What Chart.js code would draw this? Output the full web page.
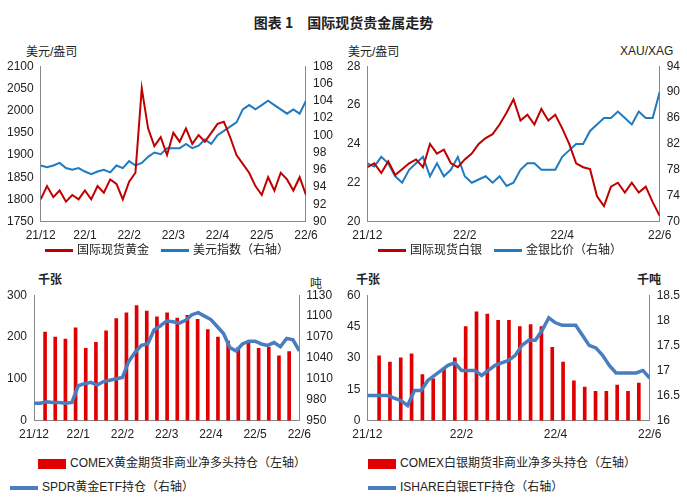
<!DOCTYPE html>
<html><head><meta charset="utf-8">
<script src="https://cdn.jsdelivr.net/npm/chart.js@4"></script>
<style>
body{margin:0;width:687px;height:501px;background:#fff;font-family:"Liberation Sans","Noto Sans CJK SC",sans-serif;color:#222;position:relative;overflow:hidden}
.c{position:absolute}
.t{position:absolute;font-size:12px;white-space:nowrap}
.lg{position:absolute;font-size:12px;white-space:nowrap}
.sw{display:inline-block;vertical-align:middle;margin-right:4px}
</style></head><body>
<div class="t" style="left:0;width:687px;text-align:center;top:12px;font-size:14px;font-weight:bold;font-family:'Noto Sans CJK SC'">图表 1　国际现货贵金属走势</div>
<div class="t" style="left:26px;top:42px">美元/盎司</div>
<div class="t" style="left:348px;top:42px">美元/盎司</div>
<div class="t" style="left:620px;top:44px">XAU/XAG</div>
<div class="t" style="left:38px;top:270px;font-weight:bold">千张</div>
<div class="t" style="left:310px;top:274px">吨</div>
<div class="t" style="left:356px;top:270px;font-weight:bold">千张</div>
<div class="t" style="left:637px;top:270px;font-weight:bold">千吨</div>
<div class="c" style="left:0;top:56px;width:340px;height:190px"><canvas id="c1"></canvas></div>
<div class="c" style="left:340px;top:56px;width:347px;height:190px"><canvas id="c2"></canvas></div>
<div class="c" style="left:0;top:285px;width:340px;height:160px"><canvas id="c3"></canvas></div>
<div class="c" style="left:340px;top:285px;width:347px;height:160px"><canvas id="c4"></canvas></div>
<div class="lg" style="left:45px;top:240px"><span class="sw" style="width:28px;height:3px;background:#c00000"></span>国际现货黄金　<span class="sw" style="width:28px;height:3px;background:#1f7bc0"></span>美元指数（右轴）</div>
<div class="lg" style="left:378px;top:240px"><span class="sw" style="width:28px;height:3px;background:#c00000"></span>国际现货白银　<span class="sw" style="width:28px;height:3px;background:#1f7bc0"></span>金银比价（右轴）</div>
<div class="lg" style="left:38px;top:453px"><span class="sw" style="width:28px;height:10px;background:#e00000"></span>COMEX黄金期货非商业净多头持仓（左轴）</div>
<div class="lg" style="left:10px;top:477px"><span class="sw" style="width:28px;height:4px;background:#4a7cc0"></span>SPDR黄金ETF持仓（右轴）</div>
<div class="lg" style="left:368px;top:453px"><span class="sw" style="width:28px;height:10px;background:#e00000"></span>COMEX白银期货非商业净多头持仓（左轴）</div>
<div class="lg" style="left:368px;top:477px"><span class="sw" style="width:28px;height:4px;background:#4a7cc0"></span>ISHARE白银ETF持仓（右轴）</div>
<script>
const monthLabels = ["21/12","22/1","22/2","22/3","22/4","22/5","22/6"];
const gold = [1800,1830,1805,1820,1795,1810,1800, 1820,1800,1830,1815,1845,1835,1800, 1840,1860,2050,1960,1920,1940,1900, 1950,1930,1960,1925,1945,1930,1950, 1970,1975,1940,1900,1880,1860,1830, 1810,1850,1820,1860,1845,1820,1850, 1810];
const dollar = [96.5,96.3,96.5,96.8,96.2,96,96.2, 95.8,95.5,95.8,96,95.7,96.5,96.2, 97,96.5,96.8,97.5,98,97.8,98.5, 98.5,98.5,99,98.5,98.8,99.5,99, 100,100.5,101,101.5,103,103.5,103, 103.5,104,103.5,103,102.5,103,102.5, 104];
const silver = [22.8,23,22.5,23.1,22.4,22.7,23, 23.2,22.8,24,23.5,23.7,23,22.8, 23.2,23.5,24,24.3,24.5,25,25.6, 26.3,25.2,25.5,25,25.8,25.2,25.5, 24.8,24,23,22.8,22.7,21.3,20.8, 21.8,22,21.5,22,21.5,21.8,21, 20.3];
const ratio = [79,78.5,80,79,77,76,78, 79,80,77,79,77,78,80, 77,76,76.5,77,76,77,75.5, 76,78,79,79,78,78,78, 80,81,82,82,84,85,86, 86,87,86,85,87,86,86, 90];
const goldPos = [212,200,195,222,173,187,215,244,258,275,262,248,258,245,252,242,218,200,190,175,185,173,175,155,165];
const spdr = [975,975,977,976,976,975,976, 1000,1003,1005,1001,1006,1008,1010, 1012,1035,1048,1058,1060,1080,1086, 1093,1092,1090,1094,1102,1105,1100, 1095,1085,1075,1055,1050,1060,1064, 1064,1060,1058,1062,1056,1068,1066, 1050];
const silverPos = [31,28,30,32,22,20,25,30,45,52,51,48,48,45,46,45,35,28,19,16,14,14,17,14,18];
const ishare = [16.5,16.5,16.5,16.5,16.45,16.4,16.3, 16.6,16.6,16.8,16.9,17,17.1,17.15, 17,17,17,16.9,17,17.1,17.15, 17.2,17.3,17.5,17.6,17.6,17.8,18.05, 17.95,17.9,17.9,17.9,17.7,17.5,17.45, 17.3,17.1,16.95,16.95,16.95,16.95,17, 16.85];

Chart.defaults.font.family = "'Liberation Sans','Noto Sans CJK SC',sans-serif";
Chart.defaults.font.size = 12;
Chart.defaults.color = "#222";
Chart.defaults.animation = false;

const toXY = arr => arr.map((v, i) => ({x: i / 7, y: v}));
const weekly = arr => arr.map((v, i) => ({x: 0.25 + i * 0.23, y: v}));

function axisX(step) {
  return {type: "linear", min: 0, max: 6, offset: false, grid: {display: false, drawTicks: true, tickLength: 4},
    border: {color: "#888"},
    ticks: {stepSize: step, autoSkip: false, maxRotation: 0, callback: v => monthLabels[v]}};
}
function axisY(pos, min, max, step) {
  return {position: pos, min: min, max: max, grid: {display: false, tickLength: 4}, border: {color: "#888"},
    ticks: {stepSize: step, autoSkip: false, callback: v => String(Math.round(v * 10) / 10)}};
}
function make(id, datasets, step, y, y1) {
  new Chart(document.getElementById(id), {
    data: {datasets: datasets},
    options: {responsive: true, maintainAspectRatio: false,
      plugins: {legend: {display: false}, tooltip: {enabled: false}},
      elements: {point: {radius: 0}, line: {tension: 0}},
      layout: {padding: {left: 4, right: 4, top: 8}},
      scales: {x: axisX(step), y: y, y1: y1}}
  });
}

make("c1", [
  {type: "line", data: toXY(gold), borderColor: "#c00000", borderWidth: 2, yAxisID: "y"},
  {type: "line", data: toXY(dollar), borderColor: "#1f7bc0", borderWidth: 2, yAxisID: "y1"}
], 1, axisY("left", 1750, 2100, 50), axisY("right", 90, 108, 2));

make("c2", [
  {type: "line", data: toXY(silver), borderColor: "#c00000", borderWidth: 2, yAxisID: "y"},
  {type: "line", data: toXY(ratio), borderColor: "#1f7bc0", borderWidth: 2, yAxisID: "y1"}
], 2, axisY("left", 20, 28, 2), axisY("right", 70, 94, 4));

make("c3", [
  {type: "line", data: toXY(spdr), borderColor: "#4a7cc0", borderWidth: 3.5, yAxisID: "y1"},
  {type: "bar", data: weekly(goldPos), backgroundColor: "#e00000", barThickness: 3, yAxisID: "y"}
], 1, axisY("left", 0, 300, 100), axisY("right", 950, 1130, 30));

make("c4", [
  {type: "line", data: toXY(ishare), borderColor: "#4a7cc0", borderWidth: 3.5, yAxisID: "y1"},
  {type: "bar", data: weekly(silverPos), backgroundColor: "#e00000", barThickness: 3, yAxisID: "y"}
], 2, axisY("left", 0, 60, 15), axisY("right", 16, 18.5, 0.5));
</script>
</body></html>
